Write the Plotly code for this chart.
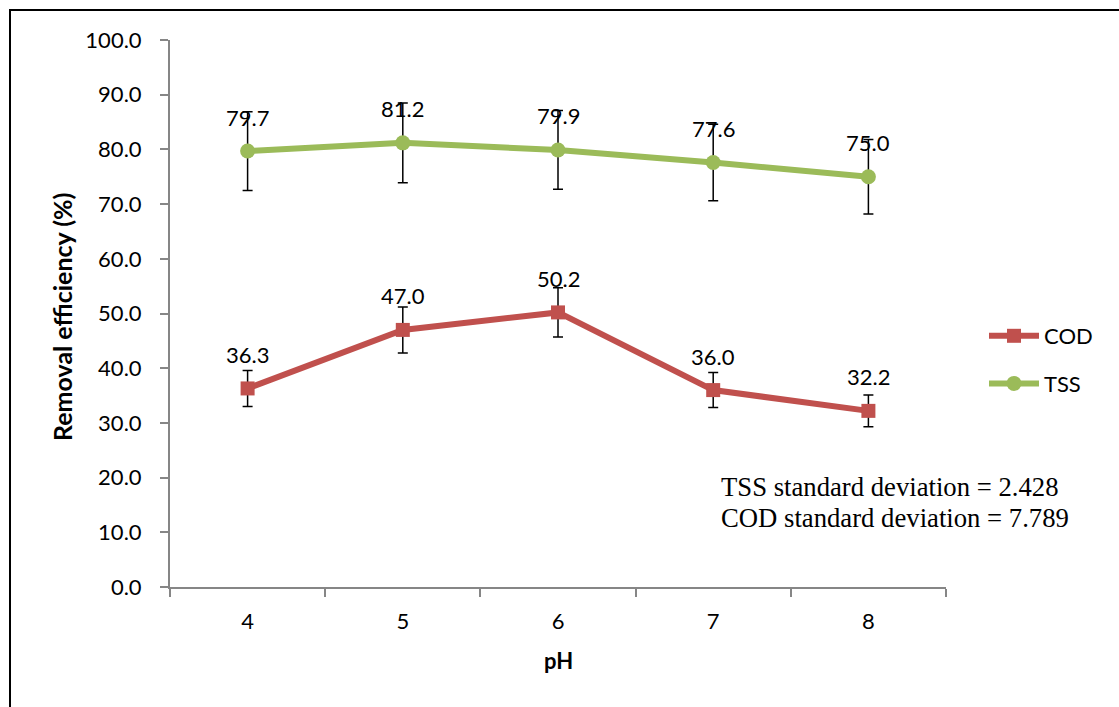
import plotly.graph_objects as go

ph = ["4", "5", "6", "7", "8"]
cod = [36.3, 47.0, 50.2, 36.0, 32.2]
tss = [79.7, 81.2, 79.9, 77.6, 75.0]
cod_err = [3.3, 4.2, 4.5, 3.2, 2.9]
tss_err = [7.2, 7.3, 7.2, 7.0, 6.8]
y_ticks = [0, 10, 20, 30, 40, 50, 60, 70, 80, 90, 100]
notes = ["TSS standard deviation = 2.428", "COD standard deviation = 7.789"]

W, H = 1119, 707
L, R, T, B = 170, 173, 40, 120
pw, ph_ = W - L - R, H - T - B

def px_x(x):
    return (x - L) / pw

def px_y(y):
    return (H - B - y) / ph_

FONT = "Lato"
RED = "#C0504D"
GREEN = "#9BBB59"

fig = go.Figure()
fig.add_trace(go.Scatter(
    x=ph, y=cod, name="COD", mode="lines+markers", legendgroup="a",
    line=dict(color=RED, width=6),
    marker=dict(symbol="square", size=14, color=RED),
    error_y=dict(type="data", array=cod_err, color="black", thickness=1.5, width=5),
))
fig.add_trace(go.Scatter(
    x=ph, y=tss, name="TSS", mode="lines+markers", legendgroup="b",
    line=dict(color=GREEN, width=6),
    marker=dict(symbol="circle", size=15, color=GREEN),
    error_y=dict(type="data", array=tss_err, color="black", thickness=1.5, width=5),
))

annotations = []
for ys in (cod, tss):
    for i, yv in enumerate(ys):
        annotations.append(dict(
            x=i, y=yv, xref="x", yref="y", text=f"{yv:.1f}", showarrow=False, yshift=34,
            font=dict(family=FONT, size=22, color="black"),
        ))

for i, t in enumerate(notes):
    annotations.append(dict(
        xref="paper", yref="paper", x=px_x(719), y=px_y(487 + 31 * i),
        text=t, showarrow=False, xanchor="left", yanchor="middle",
        font=dict(family="Liberation Serif", size=26.7, color="black"),
    ))

annotations.append(dict(
    xref="paper", yref="paper", x=px_x(62), y=px_y(317),
    text="<b>Removal efficiency (%)</b>", showarrow=False, textangle=-90,
    xanchor="center", yanchor="middle",
    font=dict(family=FONT, size=25, color="black"),
))
annotations.append(dict(
    xref="paper", yref="paper", x=px_x(558), y=px_y(660),
    text="<b>pH</b>", showarrow=False, xanchor="center", yanchor="middle",
    font=dict(family=FONT, size=22, color="black"),
))

fig.update_layout(
    width=W, height=H,
    margin=dict(l=L, r=R, t=T, b=B, autoexpand=False),
    paper_bgcolor="white", plot_bgcolor="white",
    font=dict(family=FONT, size=22, color="black"),
    showlegend=True,
    legend=dict(
        x=px_x(984), y=px_y(315), xanchor="left", yanchor="top",
        font=dict(family=FONT, size=22, color="black"),
        itemwidth=50, tracegroupgap=16, bgcolor="rgba(0,0,0,0)",
    ),
    annotations=annotations,
    shapes=[dict(
        type="rect", xref="paper", yref="paper",
        x0=px_x(10), x1=px_x(1130), y0=px_y(720), y1=px_y(10),
        line=dict(color="black", width=2), layer="below",
    )],
)
fig.update_xaxes(
    type="category", range=[-0.5, 4.5], showgrid=False, zeroline=False,
    showline=True, linecolor="#868686", linewidth=2,
    ticks="outside", tickson="boundaries", ticklen=8, tickcolor="#868686", tickwidth=2,
    ticklabelstandoff=14,
    tickfont=dict(family=FONT, size=22, color="black"),
)
fig.update_yaxes(
    range=[0, 100], tickvals=y_ticks, ticktext=[f"{v:.1f}" for v in y_ticks],
    showgrid=False, zeroline=False,
    showline=True, linecolor="#868686", linewidth=2,
    ticks="outside", ticklen=8, tickcolor="#868686", tickwidth=2,
    ticklabelstandoff=14,
    tickfont=dict(family=FONT, size=22, color="black"),
)

fig.write_html("out.html")
